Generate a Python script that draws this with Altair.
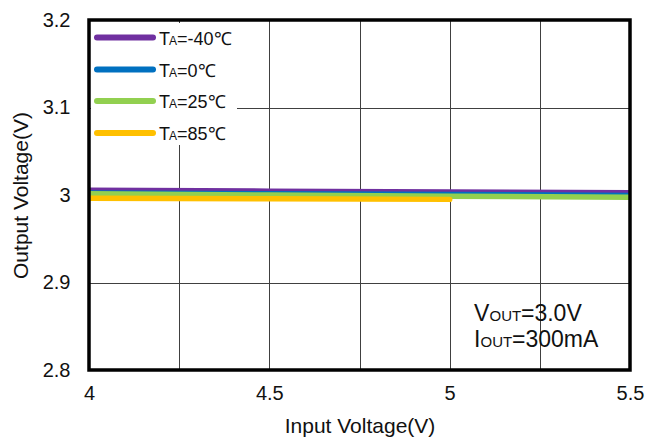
import altair as alt
import pandas as pd

# ---- data ----
x_vin = [4.0, 4.5, 5.0, 5.5]
vout_m40 = [3.0053, 3.0044, 3.0034, 3.0025]
vout_0 = [3.0024, 3.0014, 3.0005, 2.9995]
vout_25 = [3.0013, 3.0000, 2.9986, 2.9973]
x_vin_85 = [4.0, 4.5, 5.0]
vout_85 = [2.9963, 2.9957, 2.9950]

series_temps = ["-40℃", "0℃", "25℃", "85℃"]
series_colors = ["#7030A0", "#0070C0", "#92D050", "#FFC000"]
x_ticks = [4.0, 4.25, 4.5, 4.75, 5.0, 5.25, 5.5]
y_ticks = [2.8, 2.9, 3.0, 3.1, 3.2]

W, H = 541, 350
FONT = "Liberation Sans"
TXT = "#111111"

series_x = [x_vin, x_vin, x_vin, x_vin_85]
series_y = [vout_m40, vout_0, vout_25, vout_85]

xenc = alt.X(
    "vin:Q",
    scale=alt.Scale(domain=[4.0, 5.5], nice=False, zero=False),
    axis=alt.Axis(
        values=x_ticks,
        labelExpr="datum.value % 0.5 == 0 ? toString(datum.value) : ''",
        title="Input Voltage(V)",
        labelPadding=13,
        titlePadding=12,
        labelFlush=False,
        labelOverlap=False,
    ),
)
yenc = alt.Y(
    "vout:Q",
    scale=alt.Scale(domain=[2.8, 3.2], nice=False, zero=False),
    axis=alt.Axis(
        values=y_ticks,
        labelExpr="toString(datum.value)",
        title="Output Voltage(V)",
        labelPadding=19,
        titlePadding=11,
        labelFlush=False,
        labelOverlap=False,
    ),
)

layers = []
for xs, ys, col in zip(series_x, series_y, series_colors):
    df = pd.DataFrame({"vin": xs, "vout": ys})
    layers.append(
        alt.Chart(df)
        .mark_line(color=col, strokeWidth=5.5, strokeCap="round", clip=True)
        .encode(x=xenc, y=yenc)
    )

# legend box (white, hides gridlines)
legend_bg = alt.Chart(pd.DataFrame({"a": [0]})).mark_rect(fill="white").encode(
    x=alt.value(2), x2=alt.value(148), y=alt.value(3), y2=alt.value(125)
)

legend_rows = [17.5, 49.5, 81, 113]
legend_layers = []
for row_y, col, temp in zip(legend_rows, series_colors, series_temps):
    legend_layers.append(
        alt.Chart(pd.DataFrame({"a": [0]}))
        .mark_rule(color=col, strokeWidth=6, strokeCap="round")
        .encode(x=alt.value(8), x2=alt.value(64), y=alt.value(row_y))
    )
    legend_layers.append(
        alt.Chart(pd.DataFrame({"a": [0]}))
        .mark_text(align="left", baseline="alphabetic", font=FONT, fontSize=18, color=TXT)
        .encode(x=alt.value(70), y=alt.value(row_y + 7), text=alt.value("T"))
    )
    legend_layers.append(
        alt.Chart(pd.DataFrame({"a": [0]}))
        .mark_text(align="left", baseline="alphabetic", font=FONT, fontSize=12, color=TXT)
        .encode(x=alt.value(80), y=alt.value(row_y + 7), text=alt.value("A"))
    )
    legend_layers.append(
        alt.Chart(pd.DataFrame({"a": [0]}))
        .mark_text(align="left", baseline="alphabetic", font=FONT, fontSize=18, color=TXT)
        .encode(x=alt.value(88), y=alt.value(row_y + 7), text=alt.value("=" + temp))
    )

# annotation with small-caps subscripts
ann_parts = [
    (385, 300.5, 23, "V"),
    (400.5, 300.5, 15, "OUT"),
    (432, 300.5, 23, "=3.0V"),
    (385, 326.5, 23, "I"),
    (391.5, 326.5, 15, "OUT"),
    (423, 326.5, 23, "=300mA"),
]
ann_layers = [
    alt.Chart(pd.DataFrame({"a": [0]}))
    .mark_text(align="left", baseline="alphabetic", font=FONT, fontSize=fs, color=TXT)
    .encode(x=alt.value(px), y=alt.value(py), text=alt.value(t))
    for px, py, fs, t in ann_parts
]

border = alt.Chart(pd.DataFrame({"a": [0]})).mark_rect(
    fillOpacity=0, stroke="black", strokeWidth=3.5
).encode(x=alt.value(0), x2=alt.value(W), y=alt.value(0), y2=alt.value(H))

chart = (
    alt.layer(*layers, legend_bg, *legend_layers, *ann_layers, border)
    .properties(
        width=W,
        height=H,
        autosize=alt.AutoSizeParams(type="none"),
        padding={"left": 81, "top": 12, "right": 24, "bottom": 74},
        background="white",
    )
    .configure_view(stroke=None)
    .configure_axis(
        labelFont=FONT,
        titleFont=FONT,
        labelFontSize=20,
        titleFontSize=21,
        labelColor=TXT,
        titleColor=TXT,
        titleFontWeight="normal",
        grid=True,
        gridColor="#404040",
        gridWidth=1,
        ticks=False,
        domain=False,
    )
)

chart.save("out.html", embed_options={"renderer": "svg", "actions": False})
